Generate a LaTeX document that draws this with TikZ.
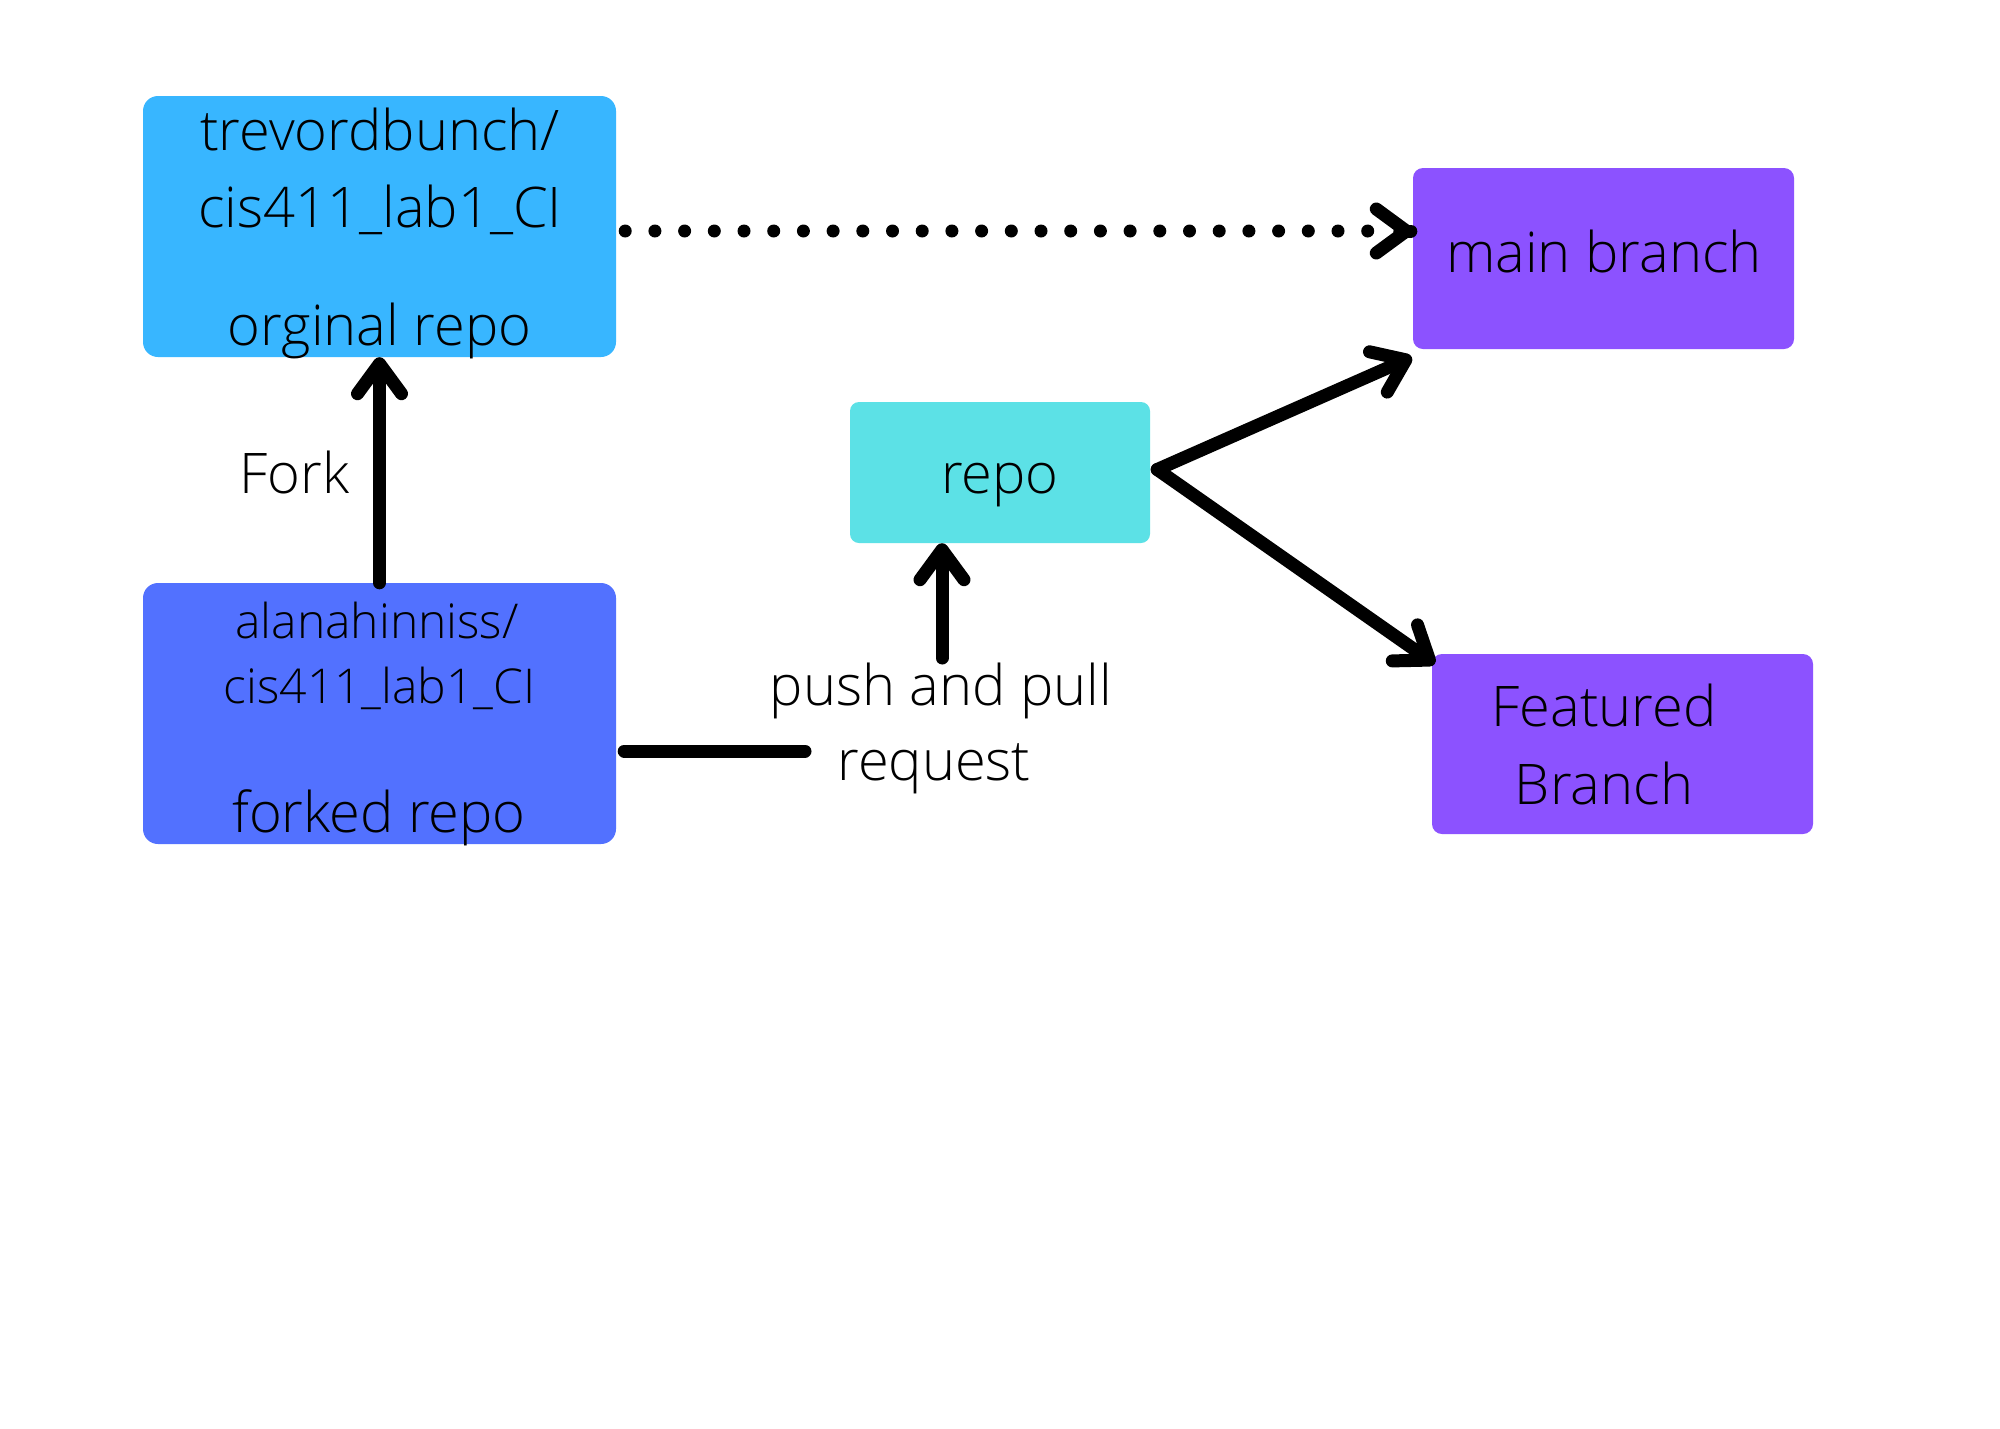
\documentclass[tikz,border=0pt]{standalone}
\usepackage{fontspec}
\setmainfont{Open Sans}[UprightFont={* Light}]
\usetikzlibrary{arrows.meta,calc}
\definecolor{origblue}{HTML}{38B6FF}
\definecolor{forkblue}{HTML}{5271FF}
\definecolor{repocyan}{HTML}{5CE1E6}
\definecolor{branchpurple}{HTML}{8C52FF}
\begin{document}
\begin{tikzpicture}[x=1pt,y=-1pt,
  box/.style={rectangle, inner sep=0pt, draw=none},
  lbl/.style={anchor=base, inner sep=0pt, text=black, font=\fontsize{56pt}{66pt}\selectfont},
  smalllbl/.style={lbl, font=\fontsize{48pt}{57pt}\selectfont},
  conn/.style={line width=13pt, line cap=round, draw=black},
  arr/.style={conn, -{Straight Barb[length=30pt,width=44pt,round]}},
  dotline/.style={line width=13pt, line cap=round, draw=black, dash pattern=on 0pt off 29.7pt},
]
\useasboundingbox[fill=white] (0,0) rectangle (2000,1428);

% boxes
\node[box, fill=origblue, minimum width=473pt, minimum height=261pt, rounded corners=15pt] (orig) at (379.5,226.5) {};
\node[box, fill=forkblue, minimum width=473pt, minimum height=261pt, rounded corners=15pt] (forked) at (379.5,713.5) {};
\node[box, fill=repocyan, minimum width=300pt, minimum height=141pt, rounded corners=9pt] (repo) at (1000,472.5) {};
\node[box, fill=branchpurple, minimum width=381pt, minimum height=181pt, rounded corners=10pt] (main) at (1603.5,258.5) {};
\node[box, fill=branchpurple, minimum width=381pt, minimum height=180pt, rounded corners=10pt] (feat) at (1622.5,744) {};

% texts
\node[lbl] (t1) at (380,150) {trevordbunch/};
\node[lbl] (t2) at (380,227) {cis411\_lab1\_CI};
\node[lbl] (t3) at (379.5,345) {orginal repo};
\node[smalllbl] (f1) at (377,638) {alanahinniss/};
\node[smalllbl] (f2) at (379.5,703) {cis411\_lab1\_CI};
\node[lbl] (f3) at (379,832) {forked repo};
\node[lbl] (fork) at (294.5,493) {Fork};
\node[lbl] (repotxt) at (1000,493) {repo};
\node[lbl] (maintxt) at (1604,272) {main branch};
\node[lbl] (feat1) at (1604,726) {Featured};
\node[lbl] (feat2) at (1604,804) {Branch};
\node[lbl] (push1) at (941,705) {push and pull};
\node[lbl] (push2) at (934,780) {request};

% connectors
\draw[arr] (forked.north) -- (orig.south);

\coordinate (d1) at ($(orig.east)+(9,4.5)$);
\coordinate (d2) at (1368,231);
\draw[dotline] (d1) -- (d2);
\draw[arr] ($(main.west |- d1)+(-2,0)$) -- (main.west |- d1);

\coordinate (pl1) at ($(forked.east)+(8,37.5)$);
\coordinate (pl2) at (805,751);
\draw[conn] (pl1) -- (pl2);

\coordinate (pa) at (942,658);
\draw[arr] (pa) -- (pa |- repo.south);

\coordinate (rv) at ($(repo.east)+(7,-3)$);
\draw[arr] (rv) -- ($(main.south west)+(-1,8)$);
\draw[arr] (rv) -- ($(feat.north west)+(3,10)$);
\end{tikzpicture}
\end{document}
